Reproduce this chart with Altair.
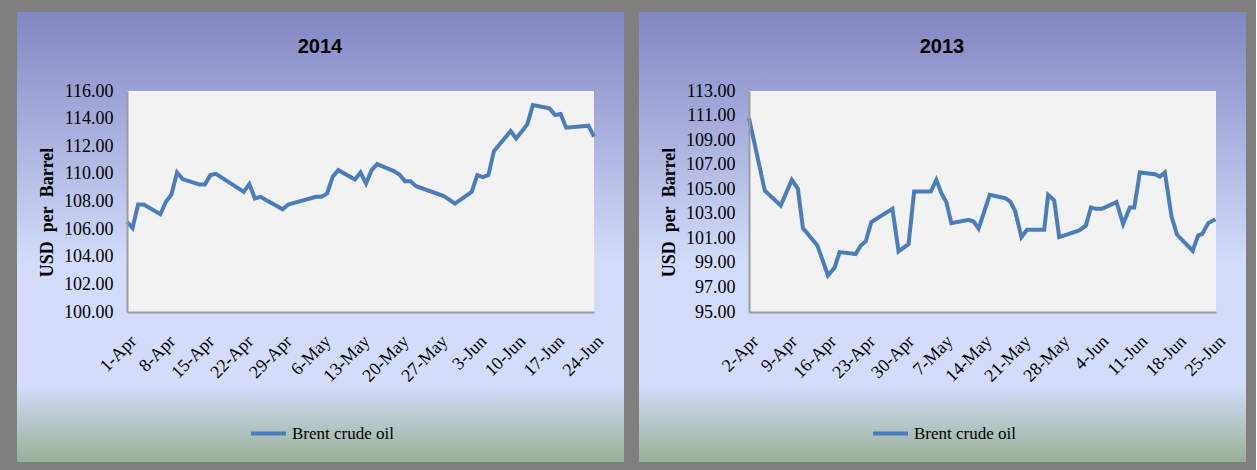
import altair as alt
import pandas as pd

# ---------------- data ----------------
series_name = "Brent crude oil"

start_2014 = "2014-04-01"
end_2014 = "2014-06-24"
days_2014 = [0, 1, 2, 3, 6, 7, 8, 9, 10, 13, 14, 15, 16, 21, 22, 23, 24, 28, 29,
             34, 35, 36, 37, 38, 41, 42, 43, 44, 45, 48, 49, 50, 51, 52, 57, 59,
             62, 63, 64, 65, 66, 69, 70, 72, 73, 76, 77, 78, 79, 83, 84]
brent_2014 = [106.53, 106.09, 107.78, 107.78, 107.08, 107.98, 108.51, 110.10, 109.62,
              109.23, 109.23, 109.91, 110.00, 108.70, 109.26, 108.22, 108.34, 107.44,
              107.78, 108.34, 108.34, 108.58, 109.80, 110.27, 109.60, 110.10, 109.31,
              110.27, 110.71, 110.20, 109.96, 109.47, 109.47, 109.11, 108.39, 107.85,
              108.70, 109.91, 109.76, 109.91, 111.65, 113.10, 112.57, 113.58, 114.98,
              114.74, 114.26, 114.33, 113.34, 113.49, 112.69]
ticks_2014 = ["2014-04-01", "2014-04-08", "2014-04-15", "2014-04-22", "2014-04-29",
              "2014-05-06", "2014-05-13", "2014-05-20", "2014-05-27", "2014-06-03",
              "2014-06-10", "2014-06-17", "2014-06-24"]
yticks_2014 = [100, 102, 104, 106, 108, 110, 112, 114, 116]

start_2013 = "2013-04-02"
end_2013 = "2013-06-25"
days_2013 = [0, 2.85, 5.7, 7.7, 8.8, 9.7, 12.3, 14.2, 15.4, 16.3, 19.2, 20.1, 21, 22,
             25.8, 26.9, 28.7, 29.7, 32.7, 33.7, 34.6, 35.5, 36.4, 39.5, 40.4, 41.3,
             43.3, 46.1, 47, 47.9, 49, 50, 53.1, 53.8, 54.9, 55.8, 59.4, 60.6, 61.5,
             62.4, 63.5, 66.1, 67.3, 68.5, 69.3, 70.3, 73, 73.9, 74.8, 76, 77, 79.8,
             80.8, 81.5, 82.6, 83.9]
brent_2013 = [110.78, 104.87, 103.67, 105.76, 105.03, 101.83, 100.42, 97.98, 98.63,
              99.88, 99.72, 100.42, 100.75, 102.32, 103.40, 99.93, 100.53, 104.81,
              104.81, 105.76, 104.68, 103.95, 102.24, 102.51, 102.37, 101.80, 104.54,
              104.27, 104.00, 103.19, 101.10, 101.70, 101.70, 104.54, 104.08, 101.10,
              101.64, 102.05, 103.51, 103.40, 103.40, 103.95, 102.16, 103.51, 103.51,
              106.36, 106.22, 106.03, 106.36, 102.78, 101.29, 99.99, 101.24, 101.34,
              102.24, 102.56]
ticks_2013 = ["2013-04-02", "2013-04-09", "2013-04-16", "2013-04-23", "2013-04-30",
              "2013-05-07", "2013-05-14", "2013-05-21", "2013-05-28", "2013-06-04",
              "2013-06-11", "2013-06-18", "2013-06-25"]
yticks_2013 = [95, 97, 99, 101, 103, 105, 107, 109, 111, 113]

# ---------------- styling ----------------
BLUE = "#4a7ebb"
SERIF = "Liberation Serif"
W, H = 467, 221


def ms(s):
    return int(pd.Timestamp(s, tz="UTC").value // 10**6)


def iso(start, d):
    t = pd.Timestamp(start) + pd.Timedelta(days=d)
    return t.strftime("%Y-%m-%dT%H:%M:%SZ")


one = pd.DataFrame({"k": [0]})

gradient = alt.LinearGradient(
    gradient="linear",
    stops=[
        alt.GradientStop(color="#8286c2", offset=0),
        alt.GradientStop(color="#d3ddfb", offset=0.56),
        alt.GradientStop(color="#d3ddfb", offset=0.83),
        alt.GradientStop(color="#98b096", offset=1),
    ],
    x1=0, x2=0, y1=0, y2=1,
)


def panel(title, start, end, days, vals, ticks, ymin, ymax, yticks):
    df = pd.DataFrame({
        "date": [iso(start, d) for d in days],
        "price": vals,
        "series": [series_name] * len(days),
    })
    bg = alt.Chart(one).mark_rect(fill=gradient).encode(
        x=alt.value(-110), x2=alt.value(W + 30),
        y=alt.value(-79), y2=alt.value(H + 150),
    )
    plotbg = alt.Chart(one).mark_rect(fill="#f2f2f2").encode(
        x=alt.value(0), x2=alt.value(W), y=alt.value(0), y2=alt.value(H)
    )
    ttl = alt.Chart(one).mark_text(
        text=title, font="Liberation Sans", fontSize=20, fontWeight="bold",
        color="black", align="center", baseline="middle",
    ).encode(x=alt.value(193), y=alt.value(-44))
    line = alt.Chart(df).mark_line(strokeWidth=4).encode(
        x=alt.X(
            "date:T",
            title=None,
            scale=alt.Scale(type="utc", domain=[ms(start), ms(end)], nice=False),
            axis=alt.Axis(
                values=[ms(t) for t in ticks],
                labelExpr="utcFormat(datum.value, '%-d-%b')",
                labelOverlap=False, labelBound=False,
                labelAngle=-45, labelAlign="right", labelBaseline="top",
                labelPadding=20, labelFontSize=18, zindex=1,
            ),
        ),
        y=alt.Y(
            "price:Q",
            scale=alt.Scale(domain=[ymin, ymax], nice=False, zero=False),
            axis=alt.Axis(
                values=yticks, format=".2f",
                title="USD\u00a0\u00a0per\u00a0\u00a0Barrel",
                titleX=-80, titleY=121, titleAngle=-90, titleAlign="center",
                titleBaseline="middle", labelPadding=14, labelFontSize=18,
                labelOverlap=False, zindex=1,
            ),
        ),
        color=alt.Color(
            "series:N",
            scale=alt.Scale(range=[BLUE]),
            legend=alt.Legend(
                title=None, orient="none", legendX=122, legendY=323,
                symbolType="stroke", symbolStrokeWidth=4, symbolSize=1225,
                labelFont=SERIF, labelFontSize=17, labelColor="black",
                labelOffset=4, zindex=1,
            ),
        ),
    )
    return alt.layer(bg, plotbg, ttl, line).properties(width=W, height=H)


left = panel("2014", start_2014, end_2014, days_2014, brent_2014, ticks_2014,
             100, 116, yticks_2014)
right = panel("2013", start_2013, end_2013, days_2013, brent_2013, ticks_2013,
              95, 113, yticks_2013)

chart = (
    alt.hconcat(left, right, spacing=15)
    .resolve_scale(x="independent", y="independent", color="independent")
    .resolve_legend(color="independent")
    .properties(
        background="#7f7f7f",
        padding={"left": 17, "top": 12, "right": 10, "bottom": 8},
    )
    .configure_view(strokeWidth=0)
    .configure_axis(
        grid=False, ticks=False,
        domainColor="#9c9c9c", domainWidth=2,
        labelFont=SERIF, labelColor="black",
        titleFont=SERIF, titleFontWeight="bold", titleFontSize=18, titleColor="black",
    )
)

chart.save("out.html", embed_options={"renderer": "svg", "actions": False})
